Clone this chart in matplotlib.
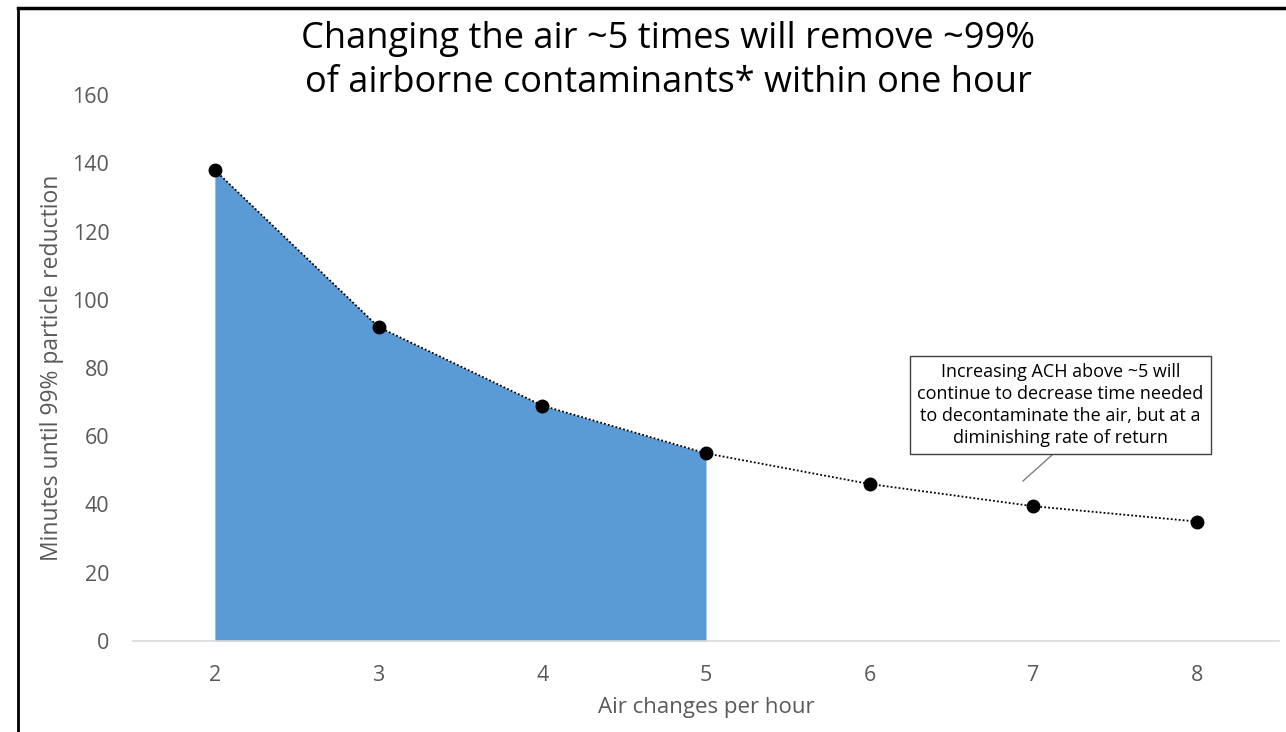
import matplotlib
matplotlib.use("Agg")
import matplotlib.pyplot as plt
from matplotlib.lines import Line2D

# Data
ach = [2, 3, 4, 5, 6, 7, 8]
minutes = [138, 92, 69, 55, 46, 39.5, 35]
fill_until = 5
yticks = [0, 20, 40, 60, 80, 100, 120, 140, 160]
title = "Changing the air ~5 times will remove ~99%\nof airborne contaminants* within one hour"
xlabel = "Air changes per hour"
ylabel = "Minutes until 99% particle reduction"
note = ("Increasing ACH above ~5 will\ncontinue to decrease time needed\n"
        "to decontaminate the air, but at a\ndiminishing rate of return")

plt.rcParams['font.family'] = ['Open Sans', 'DejaVu Sans']

W, H = 1286, 732
fig = plt.figure(figsize=(W / 100, H / 100), dpi=100)
ax = fig.add_axes([133 / W, 1 - 641 / H, (1279 - 133) / W, (641 - 95) / H])

fx = [x for x in ach if x <= fill_until]
fy = [y for x, y in zip(ach, minutes) if x <= fill_until]
ax.fill_between(fx, 0, fy, color='#5B9BD5', linewidth=0, zorder=1)
ax.plot(ach, minutes, color='black', linestyle=(0, (1, 1.2)), linewidth=1.3,
        marker='o', markersize=9, markerfacecolor='black',
        markeredgecolor='black', zorder=3)

ax.set_xlim(1.5, 8.5)
ax.set_ylim(0, 160)
ax.set_xticks(ach)
ax.set_yticks(yticks)
ax.tick_params(axis='both', length=0, labelsize=15.5, labelcolor='#595959')
ax.tick_params(axis='x', pad=17)
ax.tick_params(axis='y', pad=17)
for s in ['top', 'right', 'left']:
    ax.spines[s].set_visible(False)
ax.spines['bottom'].set_color('#D9D9D9')
ax.spines['bottom'].set_linewidth(1.2)

ax.set_xlabel(xlabel, fontsize=16, color='#595959')
ax.xaxis.set_label_coords(706 / W, 1 - 708 / H, transform=fig.transFigure)
ax.set_ylabel(ylabel, fontsize=16.5, color='#595959')
ax.yaxis.set_label_coords(52 / W, 1 - 368 / H, transform=fig.transFigure)
ax.xaxis.label.set_va('center')
ax.yaxis.label.set_va('center')

fig.text(668 / W, 1 - 61 / H, title, ha='center', va='center',
         fontsize=26, color='black', linespacing=1.33)

# annotation box
fig.text(1060.5 / W, 1 - 405 / H, note, ha='center', va='center',
         fontsize=13, color='black', linespacing=1.27,
         bbox=dict(boxstyle='square,pad=0.4', facecolor='white',
                   edgecolor='#404040', linewidth=1.0), zorder=5)
fig.add_artist(Line2D([1052 / W, 1023 / W], [1 - 455 / H, 1 - 481 / H],
                      color='#808080', linewidth=1.0,
                      transform=fig.transFigure))

# outer frame lines
fig.add_artist(Line2D([18 / W, 18 / W], [1 - 8 / H, 0], color='black',
                      linewidth=2, transform=fig.transFigure))
fig.add_artist(Line2D([18 / W, 1], [1 - 8 / H, 1 - 8 / H], color='black',
                      linewidth=2.5, transform=fig.transFigure))

fig.savefig('out.png', dpi=100)
